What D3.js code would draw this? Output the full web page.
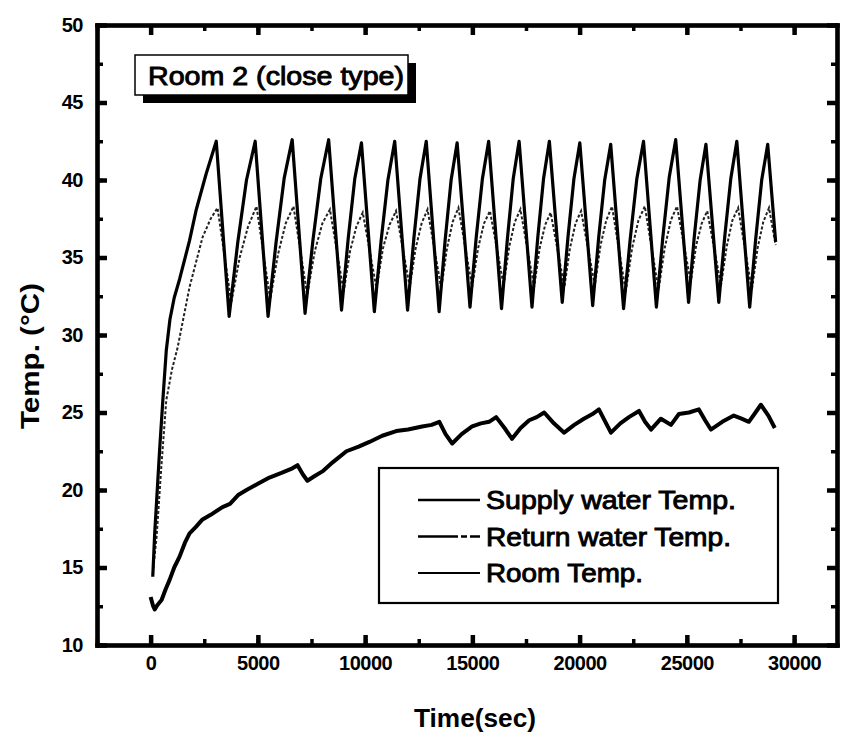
<!DOCTYPE html>
<html>
<head>
<meta charset="utf-8">
<script src="https://cdn.jsdelivr.net/npm/d3@7"></script>
<style>
  body { margin: 0; background: #fff; }
  text { font-family: "Liberation Sans", Arial, sans-serif; fill: #000; }
  .axis text { font-size: 20px; font-weight: bold; letter-spacing: -0.5px; font-family: "Liberation Sans", Arial, sans-serif; }
</style>
</head>
<body>
<script>
// values (time in sec, temperature in C)

let xTicks = [0, 5000, 10000, 15000, 20000, 25000, 30000];
let yTicks = [10, 15, 20, 25, 30, 35, 40, 45, 50];

let supplyTemp = [
  [100, 14.4], [190, 17.2], [420, 22.6], [570, 25.8], [730, 29.0], [900, 31.0],
  [1100, 32.4], [1350, 33.6], [1816, 36.1], [2130, 38.1], [2590, 40.4], [3060, 42.5],
  [3660, 31.2], [4065, 36.0], [4470, 40.0], [4875, 42.5],
  [5475, 31.2], [5850, 36.0], [6225, 40.1], [6600, 42.6],
  [7200, 31.4], [7567, 36.1], [7933, 40.1], [8300, 42.6],
  [8900, 31.6], [9210, 36.2], [9520, 40.1], [9830, 42.4],
  [10430, 31.5], [10747, 36.1], [11063, 40.0], [11380, 42.5],
  [11980, 31.6], [12270, 36.2], [12560, 40.1], [12850, 42.5],
  [13450, 31.5], [13730, 36.1], [14010, 40.0], [14290, 42.4],
  [14890, 31.8], [15180, 36.3], [15470, 40.1], [15760, 42.5],
  [16360, 31.7], [16633, 36.2], [16907, 40.1], [17180, 42.5],
  [17780, 31.8], [18050, 36.3], [18320, 40.1], [18590, 42.5],
  [19190, 32.1], [19463, 36.4], [19737, 40.1], [20010, 42.4],
  [20610, 31.9], [20890, 36.3], [21170, 40.0], [21450, 42.3],
  [22050, 31.7], [22360, 36.2], [22670, 40.1], [22980, 42.5],
  [23580, 31.8], [23880, 36.3], [24180, 40.2], [24480, 42.6],
  [25080, 32.1], [25350, 36.4], [25620, 40.0], [25890, 42.3],
  [26490, 32.1], [26770, 36.4], [27050, 40.1], [27330, 42.5],
  [27930, 31.8], [28210, 36.2], [28490, 40.0], [28770, 42.3],
  [29140, 36.0]
];

let returnTemp = [
  [100, 14.6], [280, 17.0], [500, 21.5], [730, 25.8], [1000, 27.8], [1260, 29.2],
  [1816, 33.1], [2420, 36.3], [2800, 37.5], [3120, 38.2],
  [3760, 32.1], [4152, 35.0], [4543, 37.0], [4935, 38.3],
  [5575, 32.3], [5937, 35.2], [6298, 37.2], [6660, 38.3],
  [7300, 32.6], [7653, 35.4], [8007, 37.2], [8360, 38.1],
  [9000, 32.8], [9297, 35.4], [9593, 37.0], [9890, 37.9],
  [10530, 33.0], [10833, 35.6], [11137, 37.1], [11440, 38.0],
  [12080, 33.1], [12357, 35.6], [12633, 37.2], [12910, 38.1],
  [13550, 33.0], [13817, 35.6], [14083, 37.3], [14350, 38.2],
  [14990, 33.1], [15267, 35.6], [15543, 37.2], [15820, 38.0],
  [16460, 33.2], [16720, 35.7], [16980, 37.3], [17240, 38.1],
  [17880, 33.1], [18137, 35.6], [18393, 37.1], [18650, 37.9],
  [19290, 33.1], [19550, 35.6], [19810, 37.2], [20070, 38.0],
  [20710, 33.2], [20977, 35.8], [21243, 37.4], [21510, 38.3],
  [22150, 32.8], [22447, 35.6], [22743, 37.4], [23040, 38.3],
  [23680, 32.9], [23967, 35.6], [24253, 37.4], [24540, 38.3],
  [25180, 33.4], [25437, 35.8], [25693, 37.2], [25950, 38.0],
  [26590, 33.2], [26857, 35.7], [27123, 37.4], [27390, 38.2],
  [28030, 32.9], [28297, 35.6], [28563, 37.3], [28830, 38.2],
  [29140, 35.8]
];

let roomTemp = [
  [0, 13.1], [120, 12.5], [190, 12.3], [330, 12.6], [510, 12.9], [700, 13.6],
  [885, 14.2], [1100, 15.0], [1350, 15.7], [1600, 16.6], [1816, 17.2], [2100, 17.6],
  [2420, 18.1], [2800, 18.4], [3350, 18.9], [3700, 19.1], [4100, 19.7], [4470, 20.0],
  [5000, 20.4], [5540, 20.8], [6100, 21.1], [6610, 21.4], [6850, 21.6], [7100, 21.0],
  [7310, 20.6], [7650, 20.9], [8010, 21.2], [8500, 21.8], [9130, 22.5], [9700, 22.8],
  [10200, 23.1], [10800, 23.5], [11450, 23.8], [12000, 23.9], [12660, 24.1], [13100, 24.2],
  [13460, 24.4], [13750, 23.6], [14060, 23.0], [14500, 23.6], [14990, 24.1], [15400, 24.3],
  [15780, 24.4], [16110, 24.7], [16500, 24.0], [16850, 23.3], [17250, 24.0], [17650, 24.5],
  [18000, 24.7], [18350, 25.0], [18800, 24.3], [19280, 23.7], [19750, 24.2], [20200, 24.6],
  [20600, 24.9], [20900, 25.2], [21200, 24.4], [21460, 23.7], [21900, 24.3], [22300, 24.7],
  [22770, 25.1], [23050, 24.4], [23330, 23.9], [23790, 24.6], [24260, 24.2], [24630, 24.9],
  [25100, 25.0], [25560, 25.2], [25850, 24.5], [26120, 23.9], [26650, 24.4], [27190, 24.8],
  [27550, 24.6], [27890, 24.4], [28200, 25.0], [28450, 25.5], [28800, 24.8], [29100, 24.0]
];

let seriesNames = ['Supply water Temp.', 'Return water Temp.', 'Room Temp.'];

let margin = {top: 25, right: 11, bottom: 94, left: 97};
let width = 848 - (margin.left + margin.right);
let height = 739 - (margin.top + margin.bottom);

let xScale = d3.scaleLinear()
                .domain([-2500, 32000])
                .range([0, width]);

let yScale = d3.scaleLinear()
                .domain([10, 50])
                .range([height, 0]);

let svg = d3.select('body').append('svg')
                .attr('width', 848)
                .attr('height', 739)
        .append('g')
                .attr('transform', 'translate(' + margin.left + ', ' + margin.top + ')');

function thick(g, w) {
  g.selectAll('path, line').attr('stroke', '#000').attr('stroke-width', w);
  g.select('.domain').attr('stroke-linecap', 'square');
}

// minor ticks first, majors on top; all ticks point inward
let xMinor = d3.range(-2500, 32001, 2500);
let yMinor = d3.range(10, 50.1, 2.5);

function minorAxis(axis, scale, values, tr) {
  svg.append('g')
      .attr('class', 'axis')
      .attr('transform', tr)
      .call(axis(scale).tickValues(values).tickSize(-6).tickSizeOuter(0).tickFormat(''))
      .call(thick, 3.5);
}
minorAxis(d3.axisBottom, xScale, xMinor, 'translate(0, ' + height + ')');
minorAxis(d3.axisTop, xScale, xMinor, 'translate(0, 0)');
minorAxis(d3.axisLeft, yScale, yMinor, 'translate(0, 0)');
minorAxis(d3.axisRight, yScale, yMinor, 'translate(' + width + ', 0)');

svg.append('g')
    .attr('class', 'axis')
    .attr('transform', 'translate(0, ' + height + ')')
    .call(d3.axisBottom(xScale).tickValues(xTicks).tickSize(-10).tickSizeOuter(0)
            .tickPadding(16).tickFormat(d3.format('d')))
    .call(thick, 4.5)
    .selectAll('text')
    .attr('dy', '0.45em');

svg.append('g')
    .attr('class', 'axis')
    .call(d3.axisLeft(yScale).tickValues(yTicks).tickSize(-10).tickSizeOuter(0).tickPadding(14))
    .call(thick, 4.5);

svg.append('g')
    .attr('class', 'axis')
    .call(d3.axisTop(xScale).tickValues(xTicks).tickSize(-10).tickSizeOuter(0).tickFormat(''))
    .call(thick, 4.5);

svg.append('g')
    .attr('class', 'axis')
    .attr('transform', 'translate(' + width + ', 0)')
    .call(d3.axisRight(yScale).tickValues(yTicks).tickSize(-10).tickSizeOuter(0).tickFormat(''))
    .call(thick, 4.5);

// lines
let line = d3.line()
    .x(function(d){ return xScale(d[0]); })
    .y(function(d){ return yScale(d[1]); });

svg.append('path')
    .datum(roomTemp)
    .attr('fill', 'none')
    .attr('stroke', '#000')
    .attr('stroke-width', 4)
    .attr('stroke-linejoin', 'round')
    .attr('d', line);

svg.append('path')
    .datum(returnTemp)
    .attr('fill', 'none')
    .attr('stroke', '#222')
    .attr('stroke-width', 2)
    .attr('stroke-dasharray', '3,2')
    .attr('d', line);

svg.append('path')
    .datum(supplyTemp)
    .attr('fill', 'none')
    .attr('stroke', '#000')
    .attr('stroke-width', 3.2)
    .attr('stroke-linejoin', 'round')
    .attr('d', line);

// title box with drop shadow
let tb = svg.append('g').attr('transform', 'translate(38, 30)');
tb.append('rect')
    .attr('x', 8).attr('y', 8).attr('width', 273).attr('height', 40)
    .attr('fill', '#000');
tb.append('rect')
    .attr('x', 0).attr('y', 0).attr('width', 273).attr('height', 40)
    .attr('fill', '#fff').attr('stroke', '#000').attr('stroke-width', 1.5);
tb.append('text')
    .attr('x', 13).attr('y', 30)
    .attr('font-size', 25)
    .attr('stroke', '#000').attr('stroke-width', 0.9)
    .attr('textLength', 256).attr('lengthAdjust', 'spacingAndGlyphs')
    .text('Room 2 (close type)');

// legend
let lg = svg.append('g').attr('transform', 'translate(282, 443)');
lg.append('rect')
    .attr('width', 399).attr('height', 135)
    .attr('fill', '#fff').attr('stroke', '#000').attr('stroke-width', 2.2);

let legendStyle = [
  {w: 2.4, dash: null},
  {w: 2.4, dash: '40,3,6,3'},
  {w: 2, dash: null}
];

seriesNames.forEach(function(name, i){
  let yy = 32 + i * 36.5;
  lg.append('line')
      .attr('x1', 39).attr('x2', 101)
      .attr('y1', yy).attr('y2', yy)
      .attr('stroke', '#000')
      .attr('stroke-width', legendStyle[i].w)
      .attr('stroke-dasharray', legendStyle[i].dash);
  lg.append('text')
      .attr('x', 107).attr('y', yy + 9)
      .attr('font-size', 25)
      .attr('stroke', '#000').attr('stroke-width', 0.9)
      .attr('textLength', [250, 245, 157][i]).attr('lengthAdjust', 'spacingAndGlyphs')
      .text(name);
});

// axis titles
svg.append('text')
    .attr('x', 378).attr('y', 702)
    .attr('text-anchor', 'middle')
    .attr('font-size', 26).attr('font-weight', 'bold')
    .attr('textLength', 122).attr('lengthAdjust', 'spacingAndGlyphs')
    .text('Time(sec)');

svg.append('text')
    .attr('transform', 'translate(-58, 331) rotate(-90)')
    .attr('text-anchor', 'middle')
    .attr('font-size', 26).attr('font-weight', 'bold')
    .attr('textLength', 146).attr('lengthAdjust', 'spacingAndGlyphs')
    .text('Temp. (\u00B0C)');
</script>
</body>
</html>
